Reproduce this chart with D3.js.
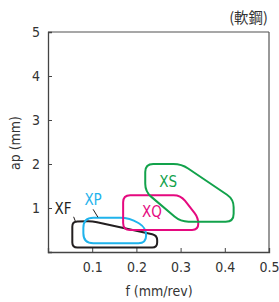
<!DOCTYPE html>
<html>
<head>
<meta charset="utf-8">
<script src="https://cdn.jsdelivr.net/npm/d3@7"></script>
<style>
  body { margin: 0; background: #fff; }
  text { font-family: "DejaVu Sans Condensed", "DejaVu Sans", sans-serif; font-stretch: condensed; }
</style>
</head>
<body>
<div id="chart"></div>
<script>
// chart size
var svgWidth = 279;
var svgHeight = 302;

var margin = { top: 32, right: 10, bottom: 50, left: 48 };
var width = 269 - margin.left;
var height = 252 - margin.top;

// axis ticks
var xTicks = [0.1, 0.2, 0.3, 0.4, 0.5];
var yTicks = [1, 2, 3, 4, 5];

// grade regions, [f, ap] vertices
var xfShape = [[0.055, 0.69], [0.10, 0.70], [0.247, 0.38], [0.247, 0.10], [0.055, 0.10]];
var xpShape = [[0.080, 0.78], [0.185, 0.78], [0.222, 0.55], [0.222, 0.20], [0.080, 0.20]];
var xqShape = [[0.170, 1.29], [0.300, 1.29], [0.340, 0.78], [0.340, 0.50], [0.170, 0.50]];
var xsShape = [[0.220, 2.00], [0.302, 2.00], [0.420, 1.20], [0.420, 0.69], [0.300, 0.69], [0.220, 1.37]];

// labels
var names = ["XF", "XP", "XQ", "XS"];
var labelPos = [[0.034, 0.97], [0.102, 1.18], [0.235, 0.89], [0.272, 1.59]];
var colors = ["#231f20", "#1fb3ec", "#e5097f", "#12a24b"];
var shapes = [xfShape, xpShape, xqShape, xsShape];

var svg = d3.select("#chart")
  .append("svg")
  .attr("width", svgWidth)
  .attr("height", svgHeight);

var chartGroup = svg.append("g")
  .attr("transform", `translate(${margin.left}, ${margin.top})`);

var xScale = d3.scaleLinear().domain([0, 0.5]).range([0, width]);
var yScale = d3.scaleLinear().domain([0, 5]).range([height, 0]);

// frame
chartGroup.append("line").attr("x1", 0).attr("x2", width).attr("y1", 0).attr("y2", 0)
  .attr("stroke", "#8a8a8a").attr("stroke-width", 1.5);
chartGroup.append("line").attr("x1", width).attr("x2", width).attr("y1", 0).attr("y2", height)
  .attr("stroke", "#555").attr("stroke-width", 1.2);

// axes with inward ticks
var bottomAxis = d3.axisBottom(xScale).tickValues(xTicks).tickSize(-4).tickPadding(10)
  .tickFormat(d3.format(".1f"));
var leftAxis = d3.axisLeft(yScale).tickValues(yTicks).tickSize(-4).tickPadding(10)
  .tickFormat(d3.format("d"));

var xg = chartGroup.append("g").attr("transform", `translate(0, ${height})`).call(bottomAxis);
var yg = chartGroup.append("g").call(leftAxis);

[xg, yg].forEach(function (g) {
  g.select(".domain").attr("stroke", "#444").attr("stroke-width", 1.3);
  g.selectAll(".tick line").attr("stroke", "#444");
  g.selectAll(".tick text").attr("fill", "#333").style("font-size", "14px");
});
yg.selectAll(".tick text").attr("dx", "2");

function roundedPath(pts, r) {
  var p = pts.map(d => [xScale(d[0]), yScale(d[1])]);
  var n = p.length;
  var path = "";
  for (var i = 0; i < n; i++) {
    var a = p[(i - 1 + n) % n], b = p[i], c = p[(i + 1) % n];
    var d1 = Math.hypot(a[0] - b[0], a[1] - b[1]);
    var d2 = Math.hypot(c[0] - b[0], c[1] - b[1]);
    var rr = Math.min(r, d1 / 2, d2 / 2);
    var s = [b[0] + (a[0] - b[0]) * rr / d1, b[1] + (a[1] - b[1]) * rr / d1];
    var e = [b[0] + (c[0] - b[0]) * rr / d2, b[1] + (c[1] - b[1]) * rr / d2];
    path += (i === 0 ? "M" : "L") + s[0] + "," + s[1] + "Q" + b[0] + "," + b[1] + " " + e[0] + "," + e[1];
  }
  return path + "Z";
}

var radii = [5, 10, 7, 8];
chartGroup.selectAll(".region")
  .data(shapes)
  .enter()
  .append("path")
  .attr("class", "region")
  .attr("d", (d, i) => roundedPath(d, radii[i]))
  .attr("fill", "none")
  .attr("stroke", (d, i) => colors[i])
  .attr("stroke-width", 2);

// leader lines for XF and XP
var leaders = [[[0.058, 0.80], [0.063, 0.67]], [[0.102, 0.97], [0.113, 0.79]]];
chartGroup.selectAll(".leader")
  .data(leaders)
  .enter()
  .append("line")
  .attr("x1", d => xScale(d[0][0]))
  .attr("y1", d => yScale(d[0][1]))
  .attr("x2", d => xScale(d[1][0]))
  .attr("y2", d => yScale(d[1][1]))
  .attr("stroke", "#231f20")
  .attr("stroke-width", 1);

chartGroup.selectAll(".label")
  .data(names)
  .enter()
  .append("text")
  .attr("x", (d, i) => xScale(labelPos[i][0]))
  .attr("y", (d, i) => yScale(labelPos[i][1]))
  .attr("text-anchor", "middle")
  .attr("dominant-baseline", "middle")
  .attr("fill", (d, i) => colors[i])
  .style("font-size", "15px")
  .text(d => d);

// axis titles
svg.append("text")
  .attr("transform", `translate(20, 143) rotate(-90)`)
  .attr("text-anchor", "middle")
  .attr("fill", "#333")
  .style("font-size", "14px")
  .text("ap (mm)");

svg.append("text")
  .attr("x", 159)
  .attr("y", 296)
  .attr("text-anchor", "middle")
  .attr("fill", "#333")
  .style("font-size", "14px")
  .text("f (mm/rev)");

svg.append("text")
  .attr("x", 268)
  .attr("y", 23)
  .attr("text-anchor", "end")
  .attr("fill", "#333")
  .style("font-family", "'Noto Sans CJK JP', sans-serif")
  .style("font-size", "14.5px")
  .text("(軟鋼)");
</script>
</body>
</html>
